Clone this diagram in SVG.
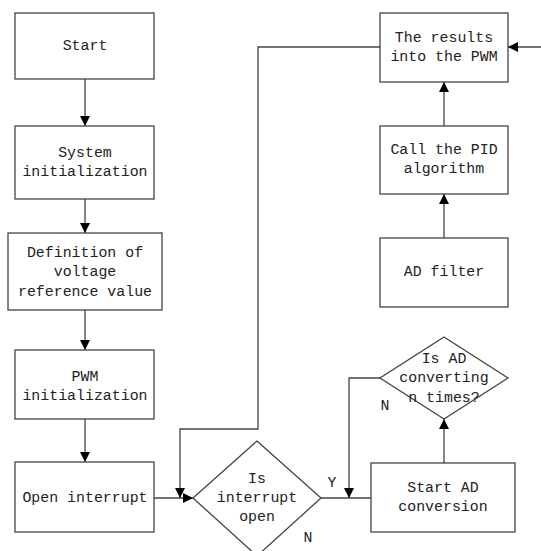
<svg xmlns="http://www.w3.org/2000/svg" width="541" height="551" viewBox="0 0 541 551">
<defs>
<marker id="ah" viewBox="0 0 10 10" refX="10" refY="5" markerWidth="10" markerHeight="10" markerUnits="userSpaceOnUse" orient="auto">
<path d="M0,0 L10,5 L0,10 z" fill="#000"/>
</marker>
<style>
.box{fill:#fff;stroke:#444;stroke-width:1.3}
.ln{fill:none;stroke:#444;stroke-width:1.3}
.t{font-family:"Liberation Mono","DejaVu Sans Mono",monospace;font-size:14.9px;fill:#222;text-anchor:middle;dominant-baseline:central}
</style>
</defs>
<rect width="541" height="551" fill="#fff"/>
<g id="connectors">
<line class="ln" x1="85" y1="79" x2="85" y2="126" marker-end="url(#ah)"/>
<line class="ln" x1="85" y1="199" x2="85" y2="233" marker-end="url(#ah)"/>
<line class="ln" x1="85" y1="310" x2="85" y2="350" marker-end="url(#ah)"/>
<line class="ln" x1="85" y1="419" x2="85" y2="462" marker-end="url(#ah)"/>
<line class="ln" x1="154" y1="498" x2="193" y2="498" marker-end="url(#ah)"/>
<polyline class="ln" points="380,47 258,47 258,429 180,429 180,498" marker-end="url(#ah)"/>
<line class="ln" x1="321" y1="498" x2="371" y2="498"/>
<polyline class="ln" points="380,378 349,378 349,498" marker-end="url(#ah)"/>
<line class="ln" x1="444" y1="463" x2="444" y2="419" marker-end="url(#ah)"/>
<line class="ln" x1="444" y1="238" x2="444" y2="194" marker-end="url(#ah)"/>
<line class="ln" x1="444" y1="126" x2="444" y2="82" marker-end="url(#ah)"/>
<line class="ln" x1="541" y1="47" x2="508" y2="47" marker-end="url(#ah)"/>
<text class="t" x="332" y="483">Y</text>
<text class="t" x="308" y="538">N</text>
<text class="t" x="385" y="406">N</text>
</g>
<g id="start"><rect class="box" x="15" y="13" width="139" height="66"/><text class="t" x="85" y="46">Start</text></g>
<g id="sysinit"><rect class="box" x="15" y="126" width="139" height="73"/><text class="t" x="85" y="153">System</text><text class="t" x="85" y="172">initialization</text></g>
<g id="defvolt"><rect class="box" x="8" y="233" width="154" height="77"/><text class="t" x="85" y="253">Definition of</text><text class="t" x="85" y="272">voltage</text><text class="t" x="85" y="292">reference value</text></g>
<g id="pwminit"><rect class="box" x="15" y="350" width="139" height="69"/><text class="t" x="85" y="377">PWM</text><text class="t" x="85" y="396">initialization</text></g>
<g id="openint"><rect class="box" x="15" y="462" width="139" height="70"/><text class="t" x="85" y="498">Open interrupt</text></g>
<g id="isint"><polygon class="box" points="257,441 321,498 257,556 193,498"/><text class="t" x="257" y="479">Is</text><text class="t" x="257" y="498">interrupt</text><text class="t" x="257" y="517">open</text></g>
<g id="startad"><rect class="box" x="371" y="463" width="144" height="69"/><text class="t" x="443" y="488">Start AD</text><text class="t" x="443" y="507">conversion</text></g>
<g id="isad"><polygon class="box" points="444,337 508,378 444,419 380,378"/><text class="t" x="444" y="359">Is AD</text><text class="t" x="444" y="378">converting</text><text class="t" x="444" y="398">n times?</text></g>
<g id="adfilter"><rect class="box" x="380" y="238" width="128" height="69"/><text class="t" x="444" y="272">AD filter</text></g>
<g id="pid"><rect class="box" x="380" y="126" width="128" height="68"/><text class="t" x="444" y="150">Call the PID</text><text class="t" x="444" y="169">algorithm</text></g>
<g id="results"><rect class="box" x="380" y="13" width="128" height="69"/><text class="t" x="444" y="38">The results</text><text class="t" x="444" y="57">into the PWM</text></g>
</svg>
